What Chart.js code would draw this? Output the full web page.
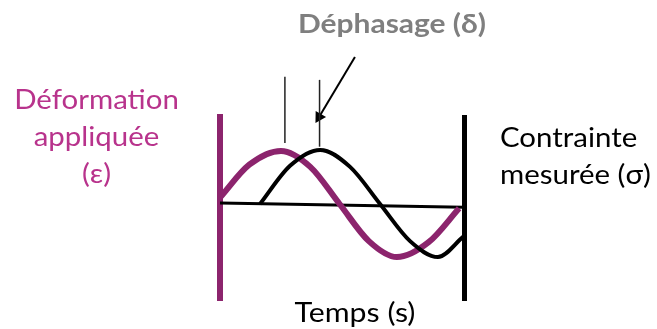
<!DOCTYPE html>
<html lang="fr">
<head>
<meta charset="UTF-8">
<script src="https://cdn.jsdelivr.net/npm/chart.js@4.4.0/dist/chart.umd.min.js"></script>
<style>
    body { margin: 0; background: #fff; }
    #wrap { position: relative; width: 657px; height: 329px; font-family: Lato, sans-serif; }
    #graphe { position: absolute; left: 0; top: 0; }
    .lbl { position: absolute; white-space: nowrap; font-size: 27px; line-height: 37px; }
    .centre { text-align: center; }
    #deformation { left: 0; top: 80px; width: 193px; color: #b8338c; transform: scaleX(1.09); }
    #contrainte { left: 500px; top: 118px; color: #000; transform: scaleX(1.09); transform-origin: left center; }
    #temps { left: 255px; top: 293px; width: 200px; color: #000; transform: scaleX(1.12); }
    #dephasage { left: 292px; top: 4px; width: 200px; color: #7f7f7f; font-weight: bold; transform: scaleX(1.11); }
</style>
</head>
<body>
<div id="wrap">
    <canvas id="graphe" width="657" height="329"></canvas>
    <div class="lbl centre" id="deformation">Déformation<br>appliquée<br>(ε)</div>
    <div class="lbl" id="contrainte">Contrainte<br>mesurée (σ)</div>
    <div class="lbl centre" id="temps">Temps (s)</div>
    <div class="lbl centre" id="dephasage">Déphasage (δ)</div>
</div>

<script>
    // déformation appliquée (ε)
    const tempsDef = [0, 0.12, 0.25, 0.37, 0.49, 0.61, 0.725, 0.855, 0.98];
    const deformation = [0.12, 0.74, 1.0, 0.70, 0.0, -0.70, -1.0, -0.72, -0.08];

    // contrainte mesurée (σ), en retard de δ
    const tempsCont = [0.164, 0.287, 0.41, 0.533, 0.656, 0.779, 0.893, 0.996];
    const contrainte = [0.0, 0.72, 1.02, 0.70, 0.0, -0.70, -1.0, -0.62];

    // axe horizontal
    const tempsAxe = [0, 1];
    const axe = [0.02, -0.06];

    // repères des deux maxima + flèche du déphasage
    const repere1T = [0.266, 0.266];
    const repere1Y = [1.15, 2.4];
    const repere2T = [0.408, 0.408];
    const repere2Y = [1.08, 2.34];
    const flecheT = [0.553, 0.406];
    const flecheY = [2.77, 1.64];

    function points(xs, ys) {
        return xs.map((x, i) => ({ x: x, y: ys[i] }));
    }

    const magenta = '#8c246d';

    const ctx = document.getElementById('graphe').getContext('2d');
    const graphe = new Chart(ctx, {
        type: 'scatter',
        data: {
            datasets: [
                {
                    data: points(tempsCont, contrainte),
                    showLine: true,
                    borderColor: '#000',
                    borderWidth: 4,
                    pointRadius: 0,
                    cubicInterpolationMode: 'monotone'
                },
                {
                    data: points(tempsDef, deformation),
                    showLine: true,
                    borderColor: magenta,
                    borderWidth: 6,
                    pointRadius: 0,
                    cubicInterpolationMode: 'monotone'
                },
                {
                    data: points(tempsAxe, axe),
                    showLine: true,
                    borderColor: '#000',
                    borderWidth: 3,
                    pointRadius: 0
                },
                {
                    data: points(repere1T, repere1Y),
                    showLine: true,
                    borderColor: '#222',
                    borderWidth: 1.5,
                    pointRadius: 0,
                    clip: false
                },
                {
                    data: points(repere2T, repere2Y),
                    showLine: true,
                    borderColor: '#222',
                    borderWidth: 1.5,
                    pointRadius: 0,
                    clip: false
                },
                {
                    data: points(flecheT, flecheY),
                    showLine: true,
                    borderColor: '#000',
                    backgroundColor: '#000',
                    borderWidth: 2,
                    pointStyle: 'triangle',
                    pointRadius: [0, 5],
                    pointRotation: 211,
                    clip: false
                }
            ]
        },
        options: {
            responsive: false,
            animation: false,
            devicePixelRatio: 1,
            layout: { padding: { left: 220, right: 193, top: 117, bottom: 29 } },
            plugins: {
                legend: { display: false },
                tooltip: { enabled: false }
            },
            scales: {
                x: { type: 'linear', min: 0, max: 1, display: false },
                y: {
                    min: -1.81, max: 1.64,
                    position: 'left',
                    ticks: { display: false },
                    grid: { display: false, drawTicks: false },
                    border: { display: true, color: magenta, width: 6 }
                },
                y2: {
                    min: -1.81, max: 1.64,
                    position: 'right',
                    ticks: { display: false },
                    grid: { display: false, drawTicks: false },
                    border: { display: true, color: '#000', width: 5 }
                }
            }
        }
    });
</script>
</body>
</html>
